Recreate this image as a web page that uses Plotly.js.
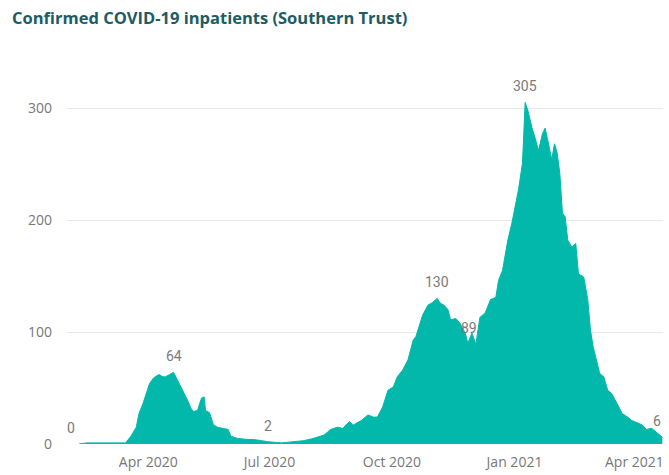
<!DOCTYPE html>
<html>
<head>
<meta charset="utf-8">
<script src="https://cdn.plot.ly/plotly-3.0.1.min.js"></script>
<style>html,body{margin:0;padding:0;background:#fff;}#chart{width:669px;height:475px;}</style>
</head>
<body>
<div id="chart"></div>
<script>
const dates = [
 '2020-02-09','2020-02-15','2020-02-22','2020-03-01','2020-03-08','2020-03-15','2020-03-17','2020-03-19','2020-03-23','2020-03-25',
 '2020-03-28','2020-03-31','2020-04-02','2020-04-05','2020-04-09','2020-04-12','2020-04-14','2020-04-17','2020-04-20','2020-04-23',
 '2020-04-26','2020-04-28','2020-05-01','2020-05-03','2020-05-05','2020-05-08','2020-05-11','2020-05-13','2020-05-14','2020-05-17',
 '2020-05-20','2020-05-23','2020-05-28','2020-05-31','2020-06-02','2020-06-07','2020-06-15','2020-06-19','2020-06-25','2020-06-30',
 '2020-07-10','2020-07-19','2020-07-27','2020-08-03','2020-08-11','2020-08-16','2020-08-21','2020-08-25','2020-08-30','2020-09-02',
 '2020-09-08','2020-09-13','2020-09-17','2020-09-20','2020-09-24','2020-09-28','2020-10-02','2020-10-05','2020-10-09','2020-10-13',
 '2020-10-17','2020-10-19','2020-10-21','2020-10-24','2020-10-28','2020-10-31','2020-11-04','2020-11-06','2020-11-09','2020-11-12',
 '2020-11-14','2020-11-18','2020-11-21','2020-11-25','2020-11-27','2020-11-30','2020-12-03','2020-12-06','2020-12-10','2020-12-14',
 '2020-12-18','2020-12-20','2020-12-23','2020-12-27','2020-12-30','2021-01-02','2021-01-04','2021-01-07','2021-01-09','2021-01-11',
 '2021-01-14','2021-01-17','2021-01-19','2021-01-22','2021-01-24','2021-01-26','2021-01-29','2021-01-31','2021-02-02','2021-02-04',
 '2021-02-06','2021-02-08','2021-02-10','2021-02-13','2021-02-16','2021-02-18','2021-02-22','2021-02-25','2021-02-27','2021-03-01',
 '2021-03-04','2021-03-06','2021-03-09','2021-03-12','2021-03-15','2021-03-19','2021-03-23','2021-03-27','2021-03-30','2021-04-03',
 '2021-04-07','2021-04-10','2021-04-14','2021-04-18','2021-04-22'
];
const inpatients = [
 0,1,1,1,1,1,4,7,15,27,
 36,48,54,59,62,60,60,62,64,57,
 50,45,38,32,29,30,41,42,30,28,
 17,15,14,13,7,5,4,4,3,2,
 1,2,3,5,8,13,15,14,20,17,
 21,26,24,24,33,48,51,60,66,75,
 93,96,104,115,124,126,130,126,124,120,
 111,112,108,99,90,99,89,113,117,129,
 131,146,155,182,197,215,227,251,305,298,
 283,271,262,277,282,271,254,268,260,242,
 206,203,182,176,179,152,149,129,102,87,
 72,63,60,48,45,36,27,24,21,19,
 17,13,14,10,6
];
const yTicks = [0, 100, 200, 300];
const xTickDates = ['2020-04-01','2020-07-01','2020-10-01','2021-01-01','2021-04-01'];
const xTickLabels = ['Apr 2020','Jul 2020','Oct 2020','Jan 2021','Apr 2021'];
const labelDates = ['2020-02-09','2020-04-20','2020-06-30','2020-11-04','2020-12-03','2021-01-09','2021-04-22'];
const labelXShift = [-8, 0, 0, 0, -7, 0, -5];

const annotations = labelDates.map((d, i) => {
  const k = dates.indexOf(d);
  return {
    x: dates[k], y: inpatients[k], text: String(inpatients[k]),
    showarrow: false, yanchor: 'bottom', yshift: 6, xshift: labelXShift[i],
    font: {family: 'Roboto, DejaVu Sans, sans-serif', size: 14, color: '#7a7a7a'}
  };
});

const trace = {
  x: dates, y: inpatients, type: 'scatter', mode: 'lines',
  fill: 'tozeroy', fillcolor: '#01B8AA',
  line: {color: '#01B8AA', width: 1, shape: 'linear'},
  hoverinfo: 'x+y'
};

const layout = {
  width: 669, height: 475,
  margin: {l: 67, r: 6, t: 80, b: 31, pad: 0},
  paper_bgcolor: '#ffffff', plot_bgcolor: '#ffffff',
  showlegend: false,
  title: {
    text: 'Confirmed COVID-19 inpatients (Southern Trust)',
    x: 0.018, xref: 'container', xanchor: 'left',
    y: 0.962, yref: 'container', yanchor: 'middle',
    font: {family: 'Open Sans, sans-serif', size: 16.5, color: '#1c5c62', weight: 700}
  },
  xaxis: {
    type: 'date',
    range: ['2020-01-31', '2021-04-22 12:00'],
    tickmode: 'array', tickvals: xTickDates, ticktext: xTickLabels,
    showgrid: false, zeroline: false, showline: false, ticks: '',
    ticklabelstandoff: 8,
    tickfont: {family: 'Open Sans, sans-serif', size: 14, color: '#777777'}
  },
  yaxis: {
    range: [0, 325],
    tickmode: 'array', tickvals: yTicks,
    showgrid: true, gridcolor: '#e9e9e9', gridwidth: 1,
    zeroline: false, showline: false, ticks: '',
    ticklabelstandoff: 14,
    tickfont: {family: 'Open Sans, sans-serif', size: 14, color: '#777777'}
  },
  annotations: annotations
};

Plotly.newPlot('chart', [trace], layout, {displayModeBar: false, staticPlot: true});
</script>
</body>
</html>
